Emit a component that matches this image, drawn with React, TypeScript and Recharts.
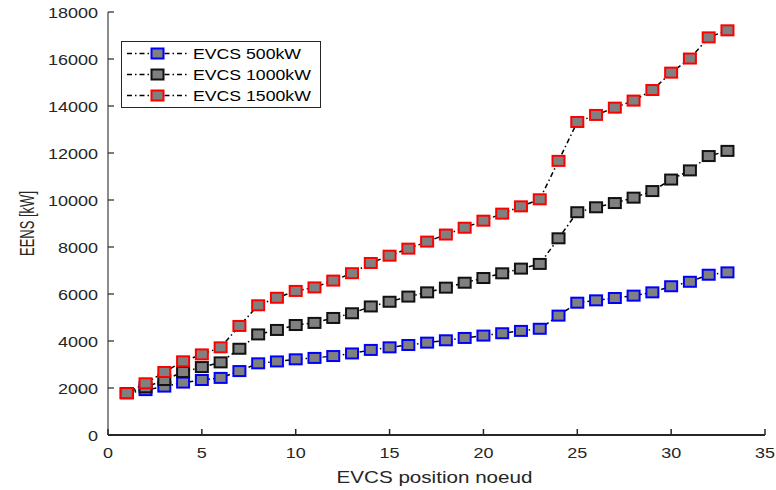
import React from "react";
import { LineChart, Line, XAxis, YAxis, Legend } from "recharts";

// EENS vs EVCS position, three charger sizes (MATLAB-style figure)

const positions = [
  1, 2, 3, 4, 5, 6, 7, 8, 9, 10, 11, 12, 13, 14, 15, 16, 17, 18, 19, 20, 21,
  22, 23, 24, 25, 26, 27, 28, 29, 30, 31, 32, 33,
];

const evcs500 = [
  1780, 1910, 2060, 2230, 2340, 2430, 2720, 3050, 3130, 3220, 3280, 3360, 3470,
  3620, 3730, 3830, 3930, 4030, 4130, 4230, 4330, 4430, 4520, 5080, 5630, 5730,
  5830, 5930, 6070, 6330, 6520, 6820, 6920,
];

const evcs1000 = [
  1780, 2030, 2340, 2680, 2890, 3090, 3670, 4280, 4470, 4680, 4770, 4980, 5180,
  5470, 5670, 5890, 6070, 6270, 6480, 6680, 6880, 7080, 7280, 8370, 9480, 9690,
  9870, 10100, 10380, 10870, 11260, 11870, 12090,
];

const evcs1500 = [
  1780, 2200, 2680, 3135, 3430, 3730, 4640, 5520, 5840, 6130, 6280, 6570, 6885,
  7320, 7630, 7930, 8230, 8530, 8820, 9120, 9420, 9730, 10030, 11665, 13320,
  13620, 13930, 14230, 14680, 15420, 16020, 16920, 17220,
];

const xTicks = [0, 5, 10, 15, 20, 25, 30, 35];
const yTicks = [0, 2000, 4000, 6000, 8000, 10000, 12000, 14000, 16000, 18000];

const series = [
  { key: "p500", name: "EVCS 500kW", edge: "#0000ff" },
  { key: "p1000", name: "EVCS 1000kW", edge: "#111111" },
  { key: "p1500", name: "EVCS 1500kW", edge: "#ff0000" },
];

const data = positions.map((x, i) => ({
  x,
  p500: evcs500[i],
  p1000: evcs1000[i],
  p1500: evcs1500[i],
}));

const FONT = "'Liberation Sans', Arial, Helvetica, sans-serif";
const INK = "#262626";
const STRETCH = 1.2; // the source picture is a bit wider than tall
const DASH = "5 3 1.5 3";

const squareDot = (edge: string) => (props: any) => {
  const { cx, cy, index } = props;
  if (cx == null || cy == null) return <g key={index} />;
  return (
    <rect
      key={index}
      x={cx - 6}
      y={cy - 5}
      width={12}
      height={10}
      fill="#808080"
      stroke={edge}
      strokeWidth={2}
    />
  );
};

function XTick(props: any) {
  const { x, y, payload } = props;
  return (
    <g>
      <line x1={x} y1={y} x2={x} y2={y - 6} stroke={INK} strokeWidth={1.5} />
      <text
        transform={`translate(${x},${y + 23}) scale(${STRETCH},1)`}
        textAnchor="middle"
        fontFamily={FONT}
        fontSize={15}
        fill={INK}
      >
        {payload.value}
      </text>
    </g>
  );
}

function YTick(props: any) {
  const { x, y, payload } = props;
  return (
    <g>
      <line x1={x} y1={y} x2={x + 6} y2={y} stroke={INK} strokeWidth={1.2} />
      <text
        transform={`translate(${x - 10},${y + 5.5}) scale(${STRETCH},1)`}
        textAnchor="end"
        fontFamily={FONT}
        fontSize={15}
        fill={INK}
      >
        {payload.value}
      </text>
    </g>
  );
}

function XLabel(props: any) {
  const { x, y, width } = props.viewBox;
  return (
    <text
      transform={`translate(${x + width / 2 - 2},${y + 48}) scale(1.25,1)`}
      textAnchor="middle"
      fontFamily={FONT}
      fontSize={16.5}
      fill={INK}
    >
      EVCS position noeud
    </text>
  );
}

function YLabel(props: any) {
  const { y, height } = props.viewBox;
  return (
    <text
      transform={`translate(34,${y + height / 2}) scale(1.5,1) rotate(-90)`}
      textAnchor="middle"
      fontFamily={FONT}
      fontSize={13}
      fill={INK}
    >
      EENS [kW]
    </text>
  );
}

function LegendBox() {
  return (
    <svg width={201} height={68} style={{ display: "block" }}>
      <rect x={0.5} y={0.5} width={199} height={66} fill="#fff" stroke={INK} strokeWidth={1} />
      {series.map((s, i) => {
        const cy = 12.5 + i * 21;
        return (
          <g key={s.key}>
            <line x1={6} y1={cy} x2={66} y2={cy} stroke="#000" strokeWidth={1.5} strokeDasharray={DASH} />
            <rect x={30.5} y={cy - 5} width={12} height={10} fill="#808080" stroke={s.edge} strokeWidth={2} />
            <text
              transform={`translate(72,${cy + 5}) scale(1.22,1)`}
              fontFamily={FONT}
              fontSize={14.5}
              fill="#000"
            >
              {s.name}
            </text>
          </g>
        );
      })}
    </svg>
  );
}

export default function App() {
  return (
    <div style={{ position: "absolute", left: 0, top: 0, background: "#fff" }}>
      <LineChart width={776} height={490} data={data} margin={{ top: 12, right: 11, left: 0, bottom: 0 }}>
        <XAxis
          dataKey="x"
          type="number"
          domain={[0, 35]}
          ticks={xTicks}
          height={55}
          tickSize={0}
          tickMargin={0}
          tickLine={false}
          tick={<XTick />}
          axisLine={{ stroke: INK, strokeWidth: 2 }}
          label={{ content: <XLabel /> }}
        />
        <YAxis
          type="number"
          domain={[0, 18000]}
          ticks={yTicks}
          width={108}
          tickSize={0}
          tickMargin={0}
          tickLine={false}
          tick={<YTick />}
          axisLine={{ stroke: "#8c8c8c", strokeWidth: 2 }}
          label={{ content: <YLabel /> }}
        />
        <Legend
          verticalAlign="middle"
          align="center"
          layout="vertical"
          content={<LegendBox />}
          wrapperStyle={{ position: "absolute", left: 121, top: 41, width: 201, height: 68 }}
        />
        {series.map((s) => (
          <Line
            key={s.key}
            dataKey={s.key}
            name={s.name}
            stroke="#000"
            strokeWidth={1.5}
            strokeDasharray={DASH}
            dot={squareDot(s.edge)}
            activeDot={false}
            isAnimationActive={false}
          />
        ))}
      </LineChart>
    </div>
  );
}
